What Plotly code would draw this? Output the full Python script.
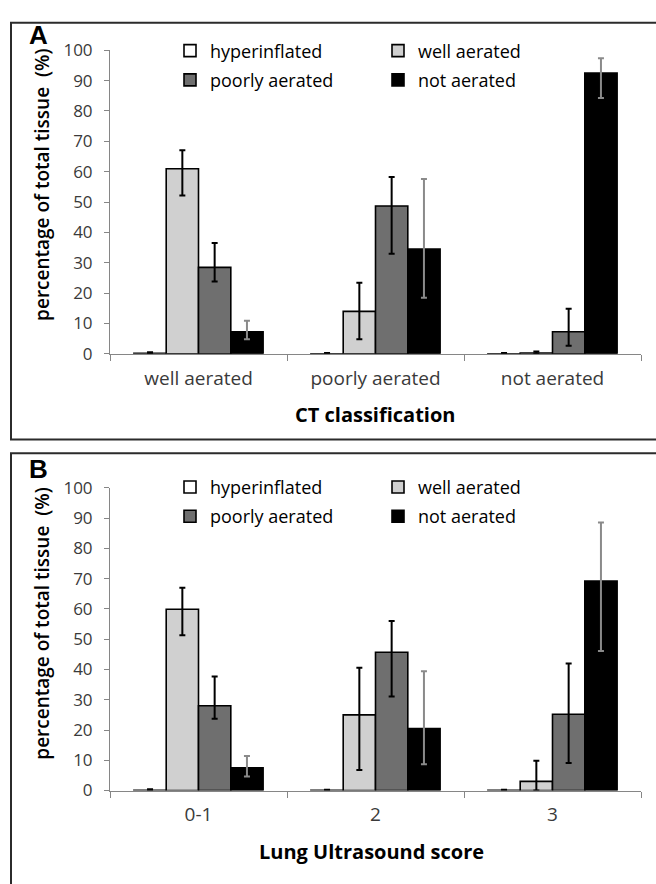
import plotly.graph_objects as go

# ---------------- data ----------------
series_names = ["hyperinflated", "well aerated", "poorly aerated", "not aerated"]

cats_a = ["well aerated", "poorly aerated", "not aerated"]
a_hyper = [0.2, 0.05, 0.05]
a_hyper_plus = [0.3, 0.2, 0.2]
a_hyper_minus = [0.2, 0.05, 0.05]
a_well = [61.0, 14.0, 0.3]
a_well_plus = [6.1, 9.4, 0.5]
a_well_minus = [8.8, 9.2, 0.3]
a_poor = [28.5, 48.7, 7.3]
a_poor_plus = [8.0, 9.6, 7.6]
a_poor_minus = [4.7, 15.7, 4.6]
a_not = [7.3, 34.5, 92.5]
a_not_plus = [3.6, 23.1, 4.9]
a_not_minus = [2.5, 16.0, 8.2]

cats_b = ["0-1", "2", "3"]
b_hyper = [0.1, 0.05, 0.05]
b_hyper_plus = [0.3, 0.2, 0.2]
b_hyper_minus = [0.1, 0.05, 0.05]
b_well = [59.9, 25.0, 3.0]
b_well_plus = [7.1, 15.6, 6.8]
b_well_minus = [8.6, 18.2, 3.0]
b_poor = [28.0, 45.7, 25.2]
b_poor_plus = [9.7, 10.3, 16.8]
b_poor_minus = [4.3, 14.6, 16.1]
b_not = [7.5, 20.5, 69.2]
b_not_plus = [3.9, 18.9, 19.4]
b_not_minus = [2.9, 11.8, 23.1]

y_ticks = [0, 10, 20, 30, 40, 50, 60, 70, 80, 90, 100]

# ---------------- style ----------------
W, H = 656, 884
FONT = "Open Sans"
fill_colors = ["#ffffff", "#d0d0d0", "#6f6f6f", "#000000"]
err_colors = ["#000000", "#000000", "#000000", "#8a8a8a"]
axis_gray = "#868686"
tick_col = "#3a3a3a"


def px_x(p):
    return p / W


def px_y(p):
    return (H - p) / H


fig = go.Figure()

panels = [
    (cats_a, [(a_hyper, a_hyper_plus, a_hyper_minus), (a_well, a_well_plus, a_well_minus),
              (a_poor, a_poor_plus, a_poor_minus), (a_not, a_not_plus, a_not_minus)],
     "x", "y", ["legend", "legend", "legend2", "legend2"]),
    (cats_b, [(b_hyper, b_hyper_plus, b_hyper_minus), (b_well, b_well_plus, b_well_minus),
              (b_poor, b_poor_plus, b_poor_minus), (b_not, b_not_plus, b_not_minus)],
     "x2", "y2", ["legend3", "legend3", "legend4", "legend4"]),
]

for cats, series, xa, ya, legs in panels:
    for i, (vals, plus, minus) in enumerate(series):
        fig.add_trace(go.Bar(
            x=cats, y=vals, name=series_names[i],
            xaxis=xa, yaxis=ya, legend=legs[i],
            marker=dict(color=fill_colors[i], line=dict(color="#000000", width=1.6)),
            error_y=dict(type="data", symmetric=False, array=plus, arrayminus=minus,
                         color=err_colors[i], thickness=2, width=3),
        ))

xdom = [px_x(110), px_x(641)]
ydom_a = [px_y(351), px_y(39.3)]
ydom_b = [px_y(799.3), px_y(488.7)]

xaxis_common = dict(
    domain=xdom, showline=True, linecolor=axis_gray, linewidth=1,
    ticks="outside", ticklen=6, tickcolor=axis_gray, tickson="boundaries",
    tickfont=dict(family=FONT, size=19, color=tick_col), showgrid=False,
    zeroline=False, fixedrange=True, ticklabelstandoff=7,
)
yaxis_common = dict(
    range=[0, 100], tickvals=y_ticks, showline=True, linecolor=axis_gray, linewidth=1,
    ticks="outside", ticklen=5, tickcolor=axis_gray,
    tickfont=dict(family=FONT, size=17, color=tick_col), showgrid=False,
    zeroline=False, fixedrange=True, ticklabelstandoff=8,
)

legend_common = dict(
    orientation="h", xanchor="left", yanchor="middle", bgcolor="rgba(0,0,0,0)",
    font=dict(family=FONT, size=18, color="#000000"), entrywidth=163,
    traceorder="normal", itemclick=False, itemdoubleclick=False,
)

LX = 170
fig.update_layout(
    width=W, height=H, margin=dict(l=0, r=0, t=0, b=0, pad=0),
    paper_bgcolor="#ffffff", plot_bgcolor="#ffffff",
    barmode="group", bargap=0.27, bargroupgap=0.0,
    xaxis=dict(anchor="y", **xaxis_common),
    yaxis=dict(anchor="x", domain=ydom_a, **yaxis_common),
    xaxis2=dict(anchor="y2", **xaxis_common),
    yaxis2=dict(anchor="x2", domain=ydom_b, **yaxis_common),
    legend=dict(x=px_x(LX), y=px_y(40), **legend_common),
    legend2=dict(x=px_x(LX), y=px_y(70), **legend_common),
    legend3=dict(x=px_x(LX), y=px_y(488), **legend_common),
    legend4=dict(x=px_x(LX), y=px_y(518), **legend_common),
    showlegend=True,
)

# panel frames
frame = dict(type="rect", xref="paper", yref="paper", line=dict(color="#2b2b2b", width=2),
             fillcolor="rgba(0,0,0,0)", layer="above")
fig.add_shape(x0=px_x(11), x1=px_x(670), y0=px_y(439), y1=px_y(11), **frame)
fig.add_shape(x0=px_x(11), x1=px_x(670), y0=px_y(900), y1=px_y(453), **frame)

ann = []
# panel letters
ann.append(dict(text="<b>A</b>", x=px_x(38), y=px_y(24), font=dict(family="Liberation Sans", size=26, color="#000")))
ann.append(dict(text="<b>B</b>", x=px_x(38), y=px_y(469), font=dict(family="Liberation Sans", size=26, color="#000")))
# axis titles
ann.append(dict(text="<b>CT classification</b>", x=px_x(375), y=px_y(413), font=dict(family=FONT, size=20, color="#000")))
ann.append(dict(text="<b>Lung Ultrasound score</b>", x=px_x(371.5), y=px_y(862), font=dict(family=FONT, size=20, color="#000")))
ann.append(dict(text="percentage of total tissue  (%)", x=px_x(42), y=px_y(177.5), textangle=-90,
                font=dict(family=FONT, size=19, color="#000", weight=600)))
ann.append(dict(text="percentage of total tissue  (%)", x=px_x(42), y=px_y(628), textangle=-90,
                font=dict(family=FONT, size=19, color="#000", weight=600)))
for a in ann:
    a.update(xref="paper", yref="paper", showarrow=False, xanchor="center", yanchor="middle")
    fig.add_annotation(**a)

fig.write_html("out.html")
